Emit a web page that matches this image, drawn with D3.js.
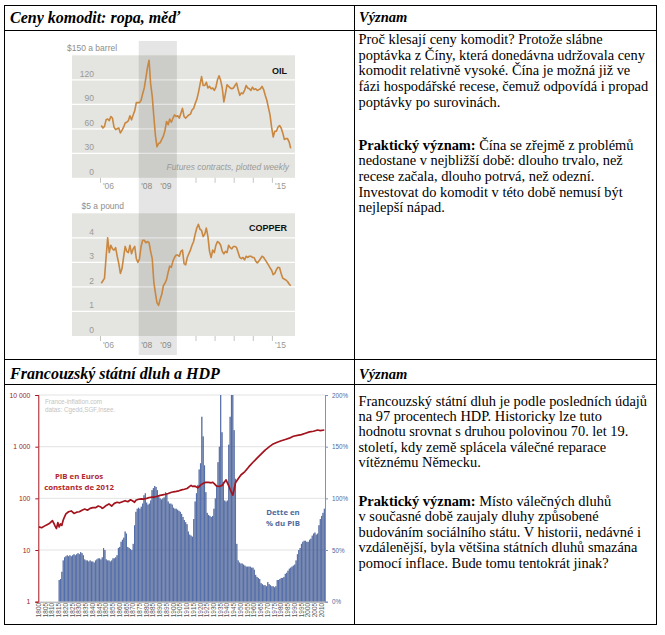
<!DOCTYPE html>
<html><head><meta charset="utf-8">
<script src="https://d3js.org/d3.v7.min.js"></script>
<style>
html,body{margin:0;padding:0;background:#fff;}
svg{display:block;}
</style></head>
<body>
<script>
// ---------------- DATA ----------------
// Commodity prices, monthly from Jan 2006 to Dec 2015
const commodityStartYear = 2006;
const oilValues = [
 64,61,63,71,72,70,75,73,62,59,60,61,
 55,58,62,67,68,70,76,71,77,82,92,92,
 92,95,103,110,122,135,144,115,100,75,52,38,
 42,43,47,51,58,69,65,72,68,73,77,75,
 76,73,79,85,75,73,75,77,78,83,85,91,
 96,104,114,124,113,113,117,110,112,109,110,107,
 111,120,125,119,110,93,103,114,112,110,109,110,
 113,116,108,101,104,103,107,113,110,109,107,111,
 108,109,107,108,109,112,108,101,95,86,77,62,
 50,57,57,62,64,61,55,47,48,48,44,36
];
const copperValues = [
 2.15,2.25,2.35,3.20,4.00,3.40,3.70,3.55,3.50,3.60,3.25,2.95,
 2.55,2.75,3.20,3.65,3.45,3.40,3.70,3.35,3.55,3.65,3.15,3.00,
 3.15,3.65,3.90,3.90,3.80,3.85,3.80,3.45,3.15,2.20,1.75,1.35,
 1.25,1.50,1.70,2.05,2.15,2.30,2.60,2.85,2.80,3.05,3.20,3.30,
 3.30,3.25,3.45,3.50,2.95,2.90,3.20,3.35,3.50,3.70,3.85,4.15,
 4.40,4.55,4.35,4.30,4.05,4.15,4.40,4.05,3.45,3.20,3.50,3.40,
 3.70,3.85,3.80,3.70,3.45,3.35,3.45,3.40,3.70,3.60,3.55,3.65,
 3.65,3.60,3.40,3.20,3.15,3.20,3.10,3.25,3.20,3.25,3.25,3.20,
 3.20,3.05,2.98,3.05,3.15,3.25,3.20,3.10,3.00,2.90,2.78,2.68,
 2.50,2.55,2.70,2.80,2.78,2.55,2.35,2.32,2.28,2.22,2.12,2.05
];
const recessionBand = [2008, 2010];
const oilTicks = [0, 30, 60, 90, 120, 150];
const copperTicks = [0, 1, 2, 3, 4, 5];
const yearLabelYears = [2006, 2008, 2009, 2015];
const yearLabelTexts = ["'06", "'08", "'09", "'15"];
const yearTickYears = [2006, 2011, 2012, 2013, 2014, 2015];

// French debt (% of GDP), one bar per year 1815..2012
const debtStartYear = 1815;
const debtValues = [
 21,22,29,40,43,
 44,45,44,45,44,45,46,45,46,47,
 46,48,47,45,41,40,40,39,40,39,
 39,38,40,41,42,42,41,43,52,50,
 41,40,40,39,40,42,42,43,45,52,
 53,58,60,62,68,66,53,52,51,50,
 56,74,87,90,91,90,92,95,103,105,
 96,94,95,98,108,110,112,111,108,102,
 100,99,100,101,106,105,97,95,95,94,
 91,90,90,89,88,87,85,82,79,77,
 75,68,65,64,63,80,97,105,113,128,
 134,179,160,132,106,86,84,83,82,83,
 90,100,113,135,150,200,164,116,98,97,
 98,152,179,200,200,166,119,56,40,38,
 37,37,36,35,34,34,34,34,33,33,
 31,26,24,23,22,18,17,16,16,15,
 19,17,16,15,15,14,15,21,21,22,
 23,23,24,27,28,30,32,33,34,35,
 36,40,46,50,52,56,58,59,59,58,
 58,60,61,64,66,67,65,66,74,80,
 83,86,90
];
// GDP in constant 2012 euros (billions, log scale)
const pibYears = [1800,1802,1804,1806,1808,1810,1811,1812,1813,1814,1815,1816,1817,1818,1819,1820,1822,1824,1826,1828,1830,1832,1834,1836,1838,1840,1842,1844,1846,1847,1848,1850,1852,1854,1856,1858,1860,1862,1864,1866,1868,1870,1871,1872,1874,1876,1878,1880,1882,1884,1886,1888,1890,1892,1894,1896,1898,1900,1902,1904,1906,1908,1910,1912,1913,1914,1916,1918,1919,1920,1922,1924,1926,1928,1929,1930,1932,1934,1936,1938,1939,1940,1941,1942,1943,1944,1945,1946,1948,1950,1953,1956,1959,1962,1965,1968,1971,1974,1977,1980,1983,1986,1989,1992,1995,1998,2001,2004,2007,2009,2012];
const pibValues = [28,27,29,31,33,37,33,29,26,34,28,32,30,38,44,50,55,57,51,54,55,59,62,59,64,66,66,71,68,64,66,73,78,71,80,84,82,86,90,86,94,88,84,92,96,98,97,100,104,106,106,110,114,117,120,124,130,134,136,140,146,150,155,170,178,170,172,160,168,180,195,205,204,200,205,195,172,170,178,210,228,200,175,150,130,115,150,200,240,283,330,410,500,600,720,860,990,1130,1220,1300,1380,1460,1590,1650,1710,1820,1930,1990,2100,2050,2100];
const pibTicks = [1, 10, 100, 1000, 10000];
const debtTicks = [0, 50, 100, 150, 200];
const franceYears = d3.range(1800, 2013);
const franceLabelYears = d3.range(1800, 2011, 5);

// Texts
const title1 = "Ceny komodit: ropa, měď";
const title2 = "Francouzský státní dluh a HDP";
const headRight = "Význam";
const text1 = [
 [["", "Proč klesají ceny komodit? Protože slábne"]],
 [["", "poptávka z Číny, která donedávna udržovala ceny"]],
 [["", "komodit relativně vysoké. Čína je možná již ve"]],
 [["", "fázi hospodářské recese, čemuž odpovídá i propad"]],
 [["", "poptávky po surovinách."]],
 [["b", "Praktický význam:"], ["", " Čína se zřejmě z problémů"]],
 [["", "nedostane v nejbližší době: dlouho trvalo, než"]],
 [["", "recese začala, dlouho potrvá, než odezní."]],
 [["", "Investovat do komodit v této době nemusí být"]],
 [["", "nejlepší nápad."]]
];
const text2 = [
 [["", "Francouzský státní dluh je podle posledních údajů"]],
 [["", "na 97 procentech HDP. Historicky lze tuto"]],
 [["", "hodnotu srovnat s druhou polovinou 70. let 19."]],
 [["", "století, kdy země splácela válečné reparace"]],
 [["", "vítěznému Německu."]],
 [["b", "Praktický význam:"], ["", " Místo válečných dluhů"]],
 [["", "v současné době zaujaly dluhy způsobené"]],
 [["", "budováním sociálního státu. V historii, nedávné i"]],
 [["", "vzdálenější, byla většina státních dluhů smazána"]],
 [["", "pomocí inflace. Bude tomu tentokrát jinak?"]]
];

// ---------------- DRAW ----------------
const W = 665, H = 635;
const svg = d3.select("body").append("svg").attr("width", W).attr("height", H);
const serif = "'Liberation Serif','Times New Roman',serif";
const sans = "'Liberation Sans',Arial,sans-serif";

// --- Commodity charts ---
const xT = d3.scaleLinear().domain([2006, 2016]).range([100.5, 291.5]);
const bgX0 = 72, bgX1 = 295;
const panels = [
  {vals: oilValues, ticks: oilTicks, y: d3.scaleLinear().domain([0,150]).range([177.8, 55.3]),
   unit: "$150 a barrel", unitX: 67, name: "OIL", note: "Futures contracts, plotted weekly", xl: 189},
  {vals: copperValues, ticks: copperTicks, y: d3.scaleLinear().domain([0,5]).range([336, 213.3]),
   unit: "$5 a pound", unitX: 81.5, name: "COPPER", note: null, xl: 347.5}
];
const tOf = i => commodityStartYear + (i + 0.5) / 12;
const bandG = svg.append("g");
panels.forEach(p => {
  const g = svg.append("g");
  const y = p.y;
  g.append("rect").attr("x", bgX0).attr("width", bgX1 - bgX0)
    .attr("y", y(p.ticks[p.ticks.length-1])).attr("height", y(0) - y(p.ticks[p.ticks.length-1]))
    .attr("fill", "#e4e4e0");
  g.selectAll("line.grid").data(p.ticks.slice(1, -1)).join("line")
    .attr("x1", bgX0).attr("x2", bgX1).attr("y1", d => y(d)).attr("y2", d => y(d))
    .attr("stroke", "#fff").attr("stroke-width", 1.2);
  g.selectAll("text.yl").data(p.ticks.slice(0, -1)).join("text")
    .attr("x", 94).attr("y", d => y(d) - 3).attr("text-anchor", "end")
    .attr("font-family", sans).attr("font-size", 8.5).attr("fill", "#9a9a96")
    .text(d => d);
  g.append("text").attr("x", p.unitX).attr("y", y(p.ticks[p.ticks.length-1]) - 4.5)
    .attr("font-family", sans).attr("font-size", 8.5).attr("fill", "#8e8e8a").text(p.unit);
  g.selectAll("line.tk").data(yearTickYears).join("line")
    .attr("x1", d => xT(d)).attr("x2", d => xT(d)).attr("y1", y(0)).attr("y2", y(0) + 5)
    .attr("stroke", "#c4c4c0").attr("stroke-width", 1);
  g.selectAll("text.xl").data(yearLabelYears).join("text")
    .attr("x", d => xT(d) + 2.5).attr("y", p.xl)
    .attr("font-family", sans).attr("font-size", 8.5).attr("fill", "#9a9a96")
    .text((d, i) => yearLabelTexts[i]);
  p.g = g;
});
// recession band over both panels
bandG.raise();
bandG.append("rect").attr("x", xT(recessionBand[0])).attr("width", xT(recessionBand[1]) - xT(recessionBand[0]))
  .attr("y", 41).attr("height", 314).attr("fill", "#000").attr("fill-opacity", 0.1);
panels.forEach(p => {
  const g = svg.append("g");
  const line = d3.line().x((d, i) => xT(tOf(i))).y(d => p.y(d));
  g.append("path").datum(p.vals).attr("d", line).attr("fill", "none")
    .attr("stroke", "#c9873f").attr("stroke-width", 1.6).attr("stroke-linejoin", "round");
  g.append("text").attr("x", 287).attr("y", p.name === "OIL" ? 74 : 231).attr("text-anchor", "end")
    .attr("font-family", sans).attr("font-weight", "bold").attr("font-size", 9).attr("fill", "#111")
    .text(p.name);
  if (p.note) g.append("text").attr("x", 289).attr("y", 170).attr("text-anchor", "end")
    .attr("font-family", sans).attr("font-style", "italic").attr("font-size", 8.4).attr("fill", "#9a9a96")
    .text(p.note);
});

// --- France chart ---
const xF = d3.scaleBand().domain(franceYears).range([38.3, 325]).paddingInner(0.2).paddingOuter(0.1);
const yDebt = d3.scaleLinear().domain([0, 200]).range([601.7, 395]).clamp(true);
const yPib = d3.scaleLog().domain([1, 10000]).range([601.7, 395]);
const defs = svg.append("defs");
const grad = defs.append("linearGradient").attr("id", "barg").attr("x1", 0).attr("x2", 1).attr("y1", 0).attr("y2", 0);
grad.append("stop").attr("offset", 0).attr("stop-color", "#233e7c");
grad.append("stop").attr("offset", 0.5).attr("stop-color", "#5671b0");
grad.append("stop").attr("offset", 1).attr("stop-color", "#233e7c");

const fg = svg.append("g");
fg.selectAll("line.fgrid").data(pibTicks.slice(1)).join("line")
  .attr("x1", 38.3).attr("x2", 325).attr("y1", d => yPib(d)).attr("y2", d => yPib(d))
  .attr("stroke", "#dcdcdc").attr("stroke-width", 0.8);
fg.append("text").attr("x", 45).attr("y", 404).attr("font-family", sans).attr("font-size", 6.3)
  .attr("fill", "#c4c4c4").text("France-inflation.com");
fg.append("text").attr("x", 45).attr("y", 412).attr("font-family", sans).attr("font-size", 6.3)
  .attr("fill", "#c4c4c4").text("datas: Cgedd,SGF,Insee.");
const debtData = debtValues.map((v, i) => ({year: debtStartYear + i, v}));
fg.selectAll("rect.bar").data(debtData).join("rect")
  .attr("x", d => xF(d.year)).attr("width", xF.bandwidth())
  .attr("y", d => yDebt(d.v)).attr("height", d => yDebt(0) - yDebt(d.v))
  .attr("fill", "url(#barg)");
const pibLine = d3.line().x(d => xF(d[0]) + xF.bandwidth() / 2).y(d => yPib(d[1]));
fg.append("path").datum(pibYears.map((y, i) => [y, pibValues[i]])).attr("d", pibLine)
  .attr("fill", "none").attr("stroke", "#a3131d").attr("stroke-width", 1.7).attr("stroke-linejoin", "round");

// axes
const fmtSpace = d => d3.format(",")(d).replace(/,/g, " ");
const leftAx = fg.append("g").attr("transform", "translate(38.3,0)")
  .call(d3.axisLeft(yPib).tickValues(pibTicks).tickFormat(fmtSpace).tickSize(3).tickPadding(5));
leftAx.select(".domain").attr("stroke", "#a3131d").attr("stroke-width", 1);
leftAx.selectAll(".tick line").attr("stroke", "#a3131d");
leftAx.selectAll(".tick text").attr("fill", "#9b1c20").attr("font-family", sans).attr("font-size", 6.8);
const rightAx = fg.append("g").attr("transform", "translate(325,0)")
  .call(d3.axisRight(yDebt).tickValues(debtTicks).tickFormat(d => d + "%").tickSize(3).tickPadding(4));
rightAx.select(".domain").attr("stroke", "#7d93bb");
rightAx.selectAll(".tick line").attr("stroke", "#7d93bb");
rightAx.selectAll(".tick text").attr("fill", "#4d6aa0").attr("font-family", sans).attr("font-size", 6.3);
const botAx = fg.append("g").attr("transform", "translate(0,601.7)")
  .call(d3.axisBottom(xF).tickValues(franceLabelYears).tickSize(0).tickPadding(2));
botAx.select(".domain").attr("stroke", "#a0a0a0");
botAx.selectAll(".tick text").attr("transform", "rotate(-90)").attr("text-anchor", "end")
  .attr("dx", "-0.2em").attr("dy", "0.32em").attr("x", 0).attr("y", 0)
  .attr("font-family", sans).attr("font-size", 6.4).attr("fill", "#555");

fg.append("text").attr("x", 79).attr("y", 478.5).attr("text-anchor", "middle")
  .attr("font-family", "'Open Sans',sans-serif").attr("font-weight", "bold").attr("font-size", 7.8)
  .attr("fill", "#b3262b").text("PIB en Euros");
fg.append("text").attr("x", 79).attr("y", 490).attr("text-anchor", "middle")
  .attr("font-family", "'Open Sans',sans-serif").attr("font-weight", "bold").attr("font-size", 7.8)
  .attr("fill", "#b3262b").text("constants de 2012");
fg.append("text").attr("x", 283).attr("y", 514.5).attr("text-anchor", "middle")
  .attr("font-family", "'Open Sans',sans-serif").attr("font-weight", "bold").attr("font-size", 7.8)
  .attr("fill", "#4d6aa0").text("Dette en");
fg.append("text").attr("x", 283).attr("y", 525.5).attr("text-anchor", "middle")
  .attr("font-family", "'Open Sans',sans-serif").attr("font-weight", "bold").attr("font-size", 7.8)
  .attr("fill", "#4d6aa0").text("% du PIB");

// --- Table ---
const tg = svg.append("g").attr("stroke", "#000").attr("stroke-width", 1);
[5.5, 30.5, 359.5, 384.5, 624.5].forEach(y => tg.append("line").attr("x1", 4).attr("x2", 657).attr("y1", y).attr("y2", y));
[4.5, 354.5, 656.5].forEach(x => tg.append("line").attr("x1", x).attr("x2", x).attr("y1", 5).attr("y2", 625));

const hg = svg.append("g").attr("font-family", serif).attr("font-weight", "bold").attr("font-style", "italic").attr("fill", "#000");
hg.append("text").attr("x", 10).attr("y", 23).attr("font-size", 16).text(title1);
hg.append("text").attr("x", 10).attr("y", 378.5).attr("font-size", 16).text(title2);
hg.append("text").attr("x", 359).attr("y", 22).attr("font-size", 14.5).text(headRight);
hg.append("text").attr("x", 359).attr("y", 378.5).attr("font-size", 14.5).text(headRight);

function para(lines, ys) {
  const g = svg.append("g").attr("font-family", serif).attr("font-size", 14.4).attr("fill", "#000");
  lines.forEach((segs, i) => {
    const t = g.append("text").attr("x", 358.5).attr("y", ys[i]);
    segs.forEach(s => t.append("tspan").attr("font-weight", s[0] === "b" ? "bold" : null).text(s[1]));
  });
}
para(text1, [44, 59.7, 75.3, 91, 106.7, 149.7, 165.3, 181, 196.7, 212.3]);
para(text2, [405.7, 420.7, 436.3, 451.7, 467.3, 505.7, 520.7, 536.7, 552.3, 568]);
</script>
</body></html>
